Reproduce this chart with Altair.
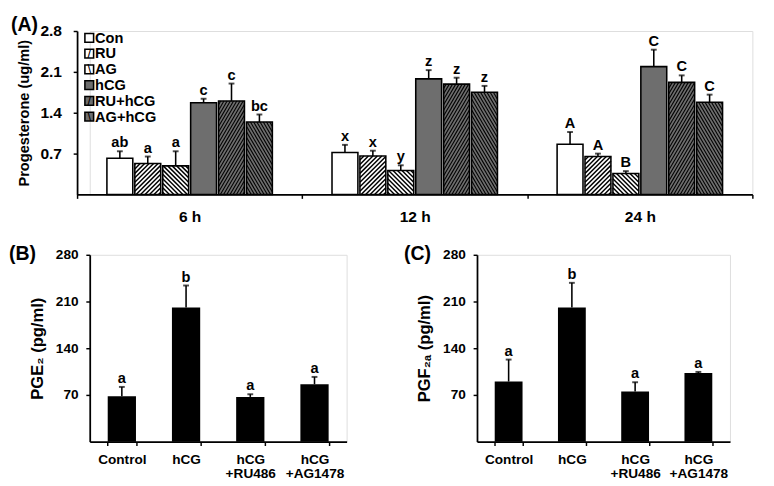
import altair as alt
import pandas as pd

# ---------------- data ----------------
groups = ["6 h", "12 h", "24 h"]
series = ["Con", "RU", "AG", "hCG", "RU+hCG", "AG+hCG"]

prog_6h = [0.62, 0.53, 0.49, 1.57, 1.60, 1.24]
err_6h = [0.12, 0.12, 0.25, 0.07, 0.30, 0.13]
let_6h = ["ab", "a", "a", "c", "c", "bc"]

prog_12h = [0.72, 0.66, 0.41, 1.98, 1.89, 1.75]
err_12h = [0.13, 0.09, 0.09, 0.15, 0.11, 0.11]
let_12h = ["x", "x", "y", "z", "z", "z"]

prog_24h = [0.86, 0.65, 0.36, 2.19, 1.92, 1.58]
err_24h = [0.21, 0.05, 0.04, 0.29, 0.12, 0.13]
let_24h = ["A", "A", "B", "C", "C", "C"]

treatments = ["Control", "hCG", "hCG\n+RU486", "hCG\n+AG1478"]
pge2 = [68, 201, 67, 86]
pge2_err = [14, 33, 4, 11]
pge2_let = ["a", "b", "a", "a"]

pgf2a = [90, 201, 75, 103]
pgf2a_err = [33, 37, 14, 1.5]
pgf2a_let = ["a", "b", "a", "a"]

# ---------------- style / layout ----------------
FONT = "Liberation Sans"
GRAY = "#6e6e6e"
bar_fills = ["white", "white", "white", GRAY, GRAY, GRAY]
swatch_marks = ["", "/", "\\", "", "/", "\\"]
# hatch: direction, slope, horizontal period (px), stroke width
hatch_style = {"RU": (1, 1.0, 4.6, 1.5), "AG": (-1, 1.0, 4.6, 1.5),
               "RU+hCG": (1, 1.7, 3.3, 1.1), "AG+hCG": (-1, 1.7, 3.3, 1.1)}

WA, HA = 694, 168
SHIFT_A = 13          # panel A's axis sits this many px left of panel B's
YMAX_A = 2.8
BAR_STEP, BAR_W = 0.124, 0.115
X_PX = WA / 3.0
Y_PX = HA / YMAX_A

rows = []
for g, (vals, errs, lets) in enumerate([(prog_6h, err_6h, let_6h),
                                        (prog_12h, err_12h, let_12h),
                                        (prog_24h, err_24h, let_24h)]):
    start = g + 0.5 - (6 * BAR_STEP - (BAR_STEP - BAR_W)) / 2
    for i, s in enumerate(series):
        left = start + i * BAR_STEP
        rows.append(dict(group=groups[g], series=s, value=vals[i], err=errs[i],
                         letter=lets[i], x0=left, x1=left + BAR_W,
                         xc=left + BAR_W / 2, top=vals[i] + errs[i]))
dfA = pd.DataFrame(rows)

hrows = []
for r in rows:
    if r["series"] not in hatch_style:
        continue
    d, k, p, sw = hatch_style[r["series"]]
    w = BAR_W * X_PX
    h = r["value"] * Y_PX
    c = -k * w + k * p / 2
    while c < h:
        u1 = max(0.0, -c / k)
        u2 = min(w, (h - c) / k)
        if u2 > u1:
            v1 = k * u1 + c
            v2 = k * u2 + c
            if d < 0:
                u1, u2 = w - u1, w - u2
            hrows.append(dict(hx=r["x0"] + u1 / X_PX, hx2=r["x0"] + u2 / X_PX,
                              hy=v1 / Y_PX, hy2=v2 / Y_PX, sw=sw))
        c += k * p
dfH = pd.DataFrame(hrows)

axis_common = dict(labelFont=FONT, labelFontWeight="bold", labelColor="black",
                   titleFont=FONT, titleFontWeight="bold", titleColor="black",
                   domainColor="black", tickColor="black", grid=False)

xsA = alt.Scale(domain=[0, 3], range=[-SHIFT_A, WA - SHIFT_A], nice=False, zero=False)
ysA = alt.Scale(domain=[0, YMAX_A], nice=False)
fill_scale = alt.Scale(domain=series, range=bar_fills)

x_axis_A = alt.Axis(values=[0, 1, 2, 3], labelExpr="datum.value == 0 ? '6 h' : datum.value == 1 ? '12 h' : datum.value == 2 ? '24 h' : ''",
                    labelOffset=WA / 6.0, labelFlush=False, labelFontSize=16, labelPadding=11,
                    tickSize=4, tickWidth=1.5, domainWidth=1.8, title=None, **axis_common)
y_axis_A = alt.Axis(values=[0.7, 1.4, 2.1, 2.8], format=".1f", labelFontSize=16, labelPadding=12,
                    tickSize=4, tickWidth=1.5, domainWidth=1.8, titleFontSize=15, titlePadding=9,
                    offset=SHIFT_A, **axis_common)

baseA = alt.Chart(dfA)
barsA = baseA.mark_rect(strokeWidth=0).encode(
    x=alt.X("x0:Q", scale=xsA, axis=x_axis_A),
    x2="x1:Q",
    y=alt.Y("value:Q", scale=ysA, axis=y_axis_A, title="Progesterone (ug/ml)"),
    y2=alt.datum(0),
    fill=alt.Fill("series:N", scale=fill_scale, legend=None),
)
hatchA = alt.Chart(dfH).mark_rule(color="black").encode(
    x="hx:Q", x2="hx2:Q", y="hy:Q", y2="hy2:Q",
    strokeWidth=alt.StrokeWidth("sw:Q", scale=None),
)
outlineA = baseA.mark_rect(fillOpacity=0, stroke="black", strokeWidth=1.6).encode(
    x="x0:Q", x2="x1:Q", y="value:Q", y2=alt.datum(0))
errA = baseA.mark_rule(color="black", strokeWidth=1.6).encode(x="xc:Q", y="value:Q", y2="top:Q")
capA = baseA.mark_tick(orient="horizontal", size=6, thickness=2, color="black").encode(
    x="xc:Q", y="top:Q")
textA = baseA.mark_text(dy=-9, font=FONT, fontSize=15, fontWeight="bold", color="black").encode(
    x="xc:Q", y="top:Q", text="letter:N")
mainA = alt.layer(barsA, hatchA, outlineA, errA, capA, textA)

# legend drawn as marks (rows spaced by a point scale)
legA_df = pd.DataFrame({"series": series, "mark": swatch_marks})
leg_y = alt.Y("series:N", sort=series, axis=None,
              scale=alt.Scale(type="point", domain=series, range=[7, 88], padding=0))
legSq = alt.Chart(legA_df).mark_square(size=80, stroke="black", strokeWidth=1.6, opacity=1).encode(
    x=alt.value(12.5 - SHIFT_A), y=leg_y, fill=alt.Fill("series:N", scale=fill_scale, legend=None))
legHatch = alt.Chart(legA_df).mark_text(align="center", baseline="middle", font="DejaVu Sans",
                                        fontSize=10, fontWeight="bold", color="black").encode(
    x=alt.value(12.5 - SHIFT_A), y=leg_y, text="mark:N")
legTx = alt.Chart(legA_df).mark_text(align="left", baseline="middle", font=FONT, fontSize=15,
                                     fontWeight="bold", color="black").encode(
    x=alt.value(18.5 - SHIFT_A), y=leg_y, text="series:N")
legendA = alt.layer(legSq, legHatch, legTx)

panelA = alt.layer(mainA, legendA).resolve_scale(y="independent").properties(
    width=WA - SHIFT_A, height=HA,
    title=alt.TitleParams("(A)", anchor="start", frame="group", font=FONT, fontSize=20,
                          fontWeight="bold", color="black", dx=-81, offset=-12),
)


def small_panel(vals, errs, lets, ytitle, label, w, dx):
    df = pd.DataFrame(dict(treatment=treatments, value=vals, err=errs, letter=lets))
    df["top"] = df["value"] + df["err"]
    base = alt.Chart(df)
    xs = alt.X("treatment:N", sort=treatments,
               scale=alt.Scale(domain=treatments, paddingInner=0.56, paddingOuter=0.28),
               axis=alt.Axis(labelExpr="split(datum.label, '\\n')", labelAngle=0,
                             tickBand="extent", labelFontSize=14, labelLineHeight=15,
                             labelPadding=7, tickSize=4, tickWidth=1.5, domainWidth=1.8,
                             title=None, **axis_common))
    ys = alt.Y("value:Q", scale=alt.Scale(domain=[0, 280], nice=False),
               axis=alt.Axis(values=[70, 140, 210, 280], labelFontSize=14, labelPadding=8,
                             tickSize=4, tickWidth=1.5, domainWidth=1.8, titleFontSize=17,
                             titlePadding=9, **axis_common),
               title=ytitle)
    bars = base.mark_bar(color="black").encode(x=xs, y=ys)
    err = base.mark_rule(color="black", strokeWidth=1.6).encode(
        x=alt.X("treatment:N", sort=treatments), y="value:Q", y2="top:Q")
    cap = base.mark_tick(orient="horizontal", size=6, thickness=2, color="black").encode(
        x=alt.X("treatment:N", sort=treatments), y="top:Q")
    txt = base.mark_text(dy=-9, font=FONT, fontSize=15, fontWeight="bold", color="black").encode(
        x=alt.X("treatment:N", sort=treatments), y="top:Q", text="letter:N")
    return alt.layer(bars, err, cap, txt).properties(
        width=w, height=192,
        title=alt.TitleParams(label, anchor="start", frame="group", font=FONT, fontSize=20,
                              fontWeight="bold", color="black", dx=dx, offset=-16),
    )


panelB = small_panel(pge2, pge2_err, pge2_let, "PGE\u2082 (pg/ml)", "(B)", 264, -83)
panelC = small_panel(pgf2a, pgf2a_err, pgf2a_let, "PGF\u2082\u2090 (pg/ml)", "(C)", 260, -75)

chart = alt.concat(
    panelA,
    alt.hconcat(panelB, panelC, spacing=57),
    columns=1, align="none", spacing=18,
).properties(padding=0).configure_view(stroke=None).configure(background="white")

chart.save("out.html", embed_options={"renderer": "svg", "actions": False})
